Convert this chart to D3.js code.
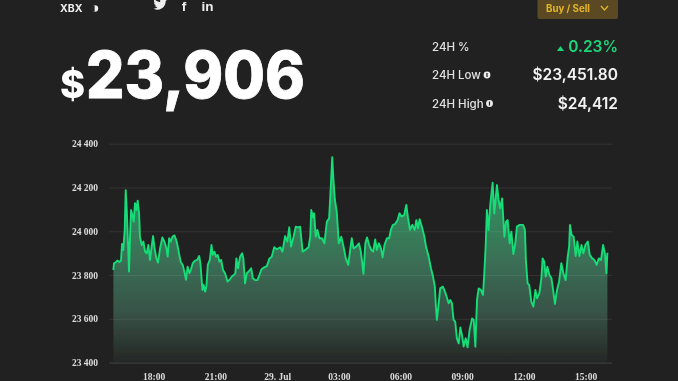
<!DOCTYPE html>
<html><head><meta charset="utf-8">
<script src="https://cdnjs.cloudflare.com/ajax/libs/d3/7.8.5/d3.min.js"></script>
<style>html,body{margin:0;padding:0;background:#212121;overflow:hidden}svg{display:block}</style>
</head><body><svg id="c" width="678" height="381"></svg>
<script>
// hours elapsed since 16:00 on 28 Jul
const hours=[.04,.07,.15,.23,.33,.41,.46,.52,.59,.64,.69,.75,.80,.85,.90,.96,1.03,1.09,1.16,1.22,1.29,1.33,1.42,1.50,1.58,1.66,1.74,1.82,1.90,1.97,2.03,2.13,2.21,2.31,2.42,2.52,2.62,2.68,2.75,2.83,2.91,3.01,3.12,3.23,3.31,3.41,3.49,3.57,3.65,3.74,3.80,3.90,4.01,4.12,4.21,4.27,4.32,4.37,4.43,4.50,4.56,4.63,4.73,4.81,4.87,4.95,5.03,5.11,5.20,5.28,5.37,5.47,5.59,5.68,5.80,5.89,5.97,6.02,6.10,6.20,6.30,6.36,6.44,6.53,6.62,6.74,6.82,6.93,7.04,7.14,7.24,7.37,7.50,7.63,
7.74,7.86,7.99,8.15,8.26,8.39,8.50,8.59,8.68,8.80,8.91,9.04,9.12,9.24,9.36,9.53,9.61,9.66,9.74,9.80,9.88,9.96,10.06,10.18,10.30,10.42,10.53,10.61,10.68,10.74,10.81,10.90,11.00,11.12,11.23,11.34,11.46,11.55,11.63,11.72,11.85,11.98,12.07,12.14,12.20,12.29,12.37,12.48,12.58,12.67,12.77,12.85,12.95,13.05,13.13,13.22,13.34,13.45,13.53,13.63,13.74,13.86,13.95,14.05,14.18,14.28,14.36,14.46,14.57,14.69,14.77,14.85,14.93,15.04,15.16,15.24,15.37,15.48,15.58,15.67,15.72,15.77,15.84,15.93,16.06,16.19,16.34,
16.42,16.50,16.58,16.66,16.74,16.83,16.91,17.00,17.07,17.17,17.26,17.36,17.48,17.56,17.64,17.72,17.80,17.91,18.01,18.07,18.14,18.20,18.28,18.37,18.48,18.56,18.69,18.77,18.85,18.94,19.05,19.13,19.21,19.31,19.39,19.49,19.58,19.66,19.79,19.96,20.05,20.10,20.18,20.26,20.36,20.46,20.56,20.64,20.75,20.85,20.91,20.99,21.06,21.14,21.24,21.34,21.42,21.51,21.61,21.71,21.82,21.92,22.03,22.13,22.20,22.24,22.32,22.42,22.52,22.60,22.70,22.80,22.89,22.99,23.11,23.20,23.32,23.43,23.54,23.64,23.75,23.85,23.95,24.01,24.06];
const prices=[23823,23854,23858,23866,23860,23866,23942,23914,24006,24188,24097,23945,23816,23975,24097,24074,24044,24128,24097,24140,24082,23975,23937,23953,23907,23899,23937,23869,23930,23978,23930,23876,23857,23922,23972,23953,23922,23884,23968,23953,23975,23981,23953,23899,23861,23846,23816,23778,23838,23808,23823,23854,23866,23869,23887,23854,23793,23732,23755,23724,23747,23846,23869,23937,23892,23907,23884,23892,23861,23869,23823,23808,23770,23777,23793,23800,23808,23876,23831,23884,23899,23876,23762,23808,23816,23831,23785,23777,23777,23800,23826,23835,23841,23876,
23884,23927,23918,23927,23907,23978,23953,24018,23930,23975,24021,24018,24021,23907,23914,23927,23975,24097,24064,24082,23975,24006,23968,23968,23945,24044,24059,24204,24338,24234,24143,24090,23945,23975,23930,23876,23846,23914,23968,23922,23930,23945,23907,23854,23805,23945,23972,23937,23914,23907,23963,23914,23945,23922,23881,23937,23968,23968,24006,24029,24033,24051,24082,24067,24074,24120,24064,24006,24029,24006,24051,24013,24055,24021,23975,23930,23884,23831,23793,23747,23656,23595,23656,23739,23747,23717,23671,
23686,23671,23595,23587,23511,23488,23561,23519,23473,23511,23470,23549,23602,23595,23473,23686,23739,23732,23709,23800,23930,24097,24006,24128,24222,24082,24211,24143,24105,24150,23975,24044,24051,23945,23998,23896,23945,24021,24029,24029,24006,23861,23762,23755,23679,23656,23732,23694,23717,23785,23876,23861,23793,23838,23800,23785,23732,23668,23732,23770,23854,23808,23777,23884,23930,24029,23983,23975,23887,23953,23887,23937,23899,23937,23953,23892,23876,23869,23846,23876,23869,23937,23892,23808,23902];
const yTicks=[23400,23600,23800,24000,24200,24400];
const xTickHours=[2,5,8,11,14,17,20,23];
const xTickLabels=["18:00","21:00","29. Jul","03:00","06:00","09:00","12:00","15:00"];
const stats=[["24H %","0.23%"],["24H Low","$23,451.80"],["24H High","$24,412"]];
const pair="XBX", price="23,906", action="Buy / Sell";

const svg=d3.select("#c");
const x=d3.scaleLinear().domain([2,17]).range([153.7,462.2]);
const y=d3.scaleLinear().domain([23400,24400]).range([362.6,143.7]);
const sans="Inter,'Liberation Sans',sans-serif", serif="'Liberation Serif',serif";
const pts=hours.map((h,i)=>[h,prices[i]]);

const defs=svg.append("defs");
const g=defs.append("linearGradient").attr("id","ar").attr("x1",0).attr("x2",0).attr("y1",0).attr("y2",1);
[["0%","#2a9e64"],["25%","#33895c"],["50%","#3a7056"],["75%","#385347"],["100%","#252726"]].forEach(s=>
  g.append("stop").attr("offset",s[0]).attr("stop-color",s[1]));
const soft=defs.append("filter").attr("id","soft");
soft.append("feGaussianBlur").attr("stdDeviation",.45);

const root=svg.append("g").attr("filter","url(#soft)");

// area under the grid
root.append("path").datum(pts).attr("fill","url(#ar)")
  .attr("d",d3.area().x(d=>x(d[0])).y0(y(23400)).y1(d=>y(d[1])));

// grid + y labels
const ay=d3.axisLeft(y).tickValues(yTicks).tickSize(-(612-109)).tickPadding(0)
  .tickFormat(d=>d3.format(",")(d).replace(","," "));
const gy=root.append("g").attr("transform","translate(109,0)").call(ay);
gy.select(".domain").remove();
gy.selectAll("line").attr("stroke","#fff").attr("stroke-opacity",d=>d===23400?.15:.08).attr("stroke-width",1);
gy.selectAll("text").attr("x",-11).attr("fill","#dcdcdc").attr("font-family",serif).attr("font-size",9.5).attr("font-weight","bold");

// x labels
const ax=d3.axisBottom(x).tickValues(xTickHours).tickSize(0).tickFormat((d,i)=>xTickLabels[i]);
const gx=root.append("g").attr("transform","translate(0,364)").call(ax);
gx.select(".domain").remove();
gx.selectAll("text").attr("y",9).attr("fill","#dcdcdc").attr("font-family",serif).attr("font-size",9.5).attr("font-weight","bold");

// line
root.append("path").datum(pts).attr("fill","none").attr("stroke","#14dd78").attr("stroke-width",1.9).attr("stroke-linejoin","round")
  .attr("d",d3.line().x(d=>x(d[0])).y(d=>y(d[1])));

// header
root.append("text").attr("x",60).attr("y",12).text(pair).attr("fill","#eee").attr("font-family",sans).attr("font-weight",700).attr("font-size",10.5);
root.append("circle").attr("cx",95).attr("cy",8.5).attr("r",3.2).attr("fill","#eee");
root.append("path").attr("d","M95 5.3A3.2 3.2 0 0 0 95 11.7Z").attr("fill","#212121").attr("transform","translate(-.4,0)");
// twitter bird
root.append("path").attr("transform","translate(153.5,-2.5) scale(.56)").attr("fill","#eee")
  .attr("d","M23.95 4.57a10 10 0 0 1-2.82.77 4.96 4.96 0 0 0 2.16-2.72 9.9 9.9 0 0 1-3.13 1.19 4.92 4.92 0 0 0-8.38 4.48A13.98 13.98 0 0 1 1.64 3.16a4.92 4.92 0 0 0 1.52 6.57 4.9 4.9 0 0 1-2.23-.61v.06a4.92 4.92 0 0 0 3.95 4.83 5 5 0 0 1-2.21.08 4.93 4.93 0 0 0 4.6 3.42A9.87 9.87 0 0 1 0 19.54a13.94 13.94 0 0 0 7.55 2.21c9.05 0 14-7.5 14-13.98 0-.21 0-.42-.02-.63a10 10 0 0 0 2.46-2.55z");
root.append("text").attr("x",184).attr("y",11).attr("text-anchor","middle").text("f").attr("fill","#eee").attr("font-family","'Liberation Sans',sans-serif").attr("font-weight","bold").attr("font-size",13.5);
root.append("text").attr("x",207.5).attr("y",11).attr("text-anchor","middle").text("in").attr("fill","#eee").attr("font-family","'Liberation Sans',sans-serif").attr("font-weight","bold").attr("font-size",13.5);

// big price
root.append("text").attr("x",60).attr("y",98).text("$").attr("fill","#fff").attr("font-family",sans).attr("font-weight",800).attr("font-size",38);
root.append("text").attr("x",86).attr("y",97.500).text(price).attr("fill","#fff").attr("stroke","#fff").attr("stroke-width",.8).attr("font-family",sans).attr("font-weight",800).attr("font-size",64)
  .attr("textLength",219).attr("lengthAdjust","spacingAndGlyphs");

// button
root.append("path").attr("d","M537.5 -2H618V17Q618 19 616 19H539.500Q537.500 19 537.500 17Z").attr("fill","#5a4a20");
root.append("text").attr("x",546).attr("y",11.700).text(action).attr("fill","#e5b625").attr("font-family",sans).attr("font-weight",700).attr("font-size",9.700);
root.append("path").attr("d","M601 6L604.500 10L608 6").attr("fill","none").attr("stroke","#e5b625").attr("stroke-width",1.3);

// stats
const rowY=[51,79,108];
stats.forEach((s,i)=>{
  root.append("text").attr("x",432).attr("y",rowY[i]).text(s[0]).attr("fill","#e2e2e2").attr("font-family",sans).attr("font-weight",500).attr("font-size",11.5);
  root.append("text").attr("x",618).attr("y",rowY[i]+1).attr("text-anchor","end").text(s[1])
    .attr("fill",i?"#f2f2f2":"#1fd47a").attr("font-family",sans).attr("font-weight",600).attr("font-size",15.5);
});
root.append("path").attr("d","M557 51L560.500 46L564 51Z").attr("fill","#1fd47a");
[[487,75],[489.500,103.500]].forEach(p=>{
  root.append("circle").attr("cx",p[0]).attr("cy",p[1]).attr("r",3.4).attr("fill","#eee");
  root.append("rect").attr("x",p[0]-.6).attr("y",p[1]-2).attr("width",1.2).attr("height",4).attr("fill","#212121");
});
</script></body></html>
